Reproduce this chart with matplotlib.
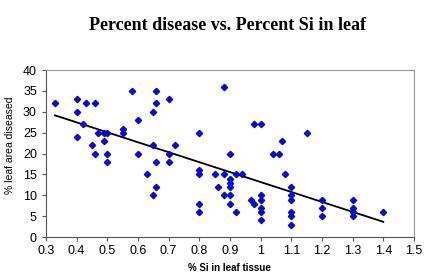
import matplotlib.pyplot as plt
import numpy as np

# data
si = [0.33, 0.40, 0.40, 0.43, 0.46, 0.42, 0.40, 0.47, 0.49, 0.50, 0.45, 0.49,
      0.46, 0.50, 0.50, 0.55, 0.55, 0.58, 0.60, 0.60, 0.63, 0.65, 0.65, 0.66,
      0.66, 0.66, 0.66, 0.65, 0.70, 0.70, 0.70, 0.72, 0.80, 0.80, 0.80, 0.80,
      0.80, 0.85, 0.86, 0.88, 0.88, 0.88, 0.90, 0.90, 0.90, 0.90, 0.90, 0.90,
      0.92, 0.92, 0.94, 0.97, 0.98, 0.98, 1.00, 1.00, 1.00, 1.00, 1.00, 1.00,
      1.04, 1.06, 1.07, 1.08, 1.10, 1.10, 1.10, 1.10, 1.10, 1.10, 1.15, 1.20,
      1.20, 1.20, 1.30, 1.30, 1.30, 1.30, 1.40]
disease = [32, 33, 30, 32, 32, 27, 24, 25, 25, 25, 22, 23,
           20, 20, 18, 26, 25, 35, 28, 20, 15, 22, 30, 32,
           35, 18, 12, 10, 33, 20, 18, 22, 25, 16, 15, 8,
           6, 15, 12, 36, 15, 10, 20, 14, 13, 12, 10, 8,
           15, 6, 15, 9, 8, 27, 27, 10, 9, 7, 6, 4,
           20, 20, 23, 15, 12, 10, 9, 6, 5, 3, 25, 9,
           7, 5, 9, 7, 6, 5, 6]
x_ticks = [0.3, 0.4, 0.5, 0.6, 0.7, 0.8, 0.9, 1.0, 1.1, 1.2, 1.3, 1.4, 1.5]
x_labels = ['0.3', '0.4', '0.5', '0.6', '0.7', '0.8', '0.9', '1', '1.1', '1.2', '1.3', '1.4', '1.5']
y_ticks = [0, 5, 10, 15, 20, 25, 30, 35, 40]

plt.rcParams['font.family'] = 'Liberation Sans'

fig = plt.figure(figsize=(4.25, 2.78), dpi=100)
ax = fig.add_axes([0.108, 0.147, 0.866, 0.601])

ax.plot(si, disease, linestyle='none', marker='D', markersize=3.2,
        color='#0a0acc', zorder=3)

# linear trendline
coef = np.polyfit(si, disease, 1)
xs = np.array([min(si), max(si)])
ax.plot(xs, np.polyval(coef, xs), color='black', linewidth=1.3, zorder=2)

ax.set_xlim(0.3, 1.5)
ax.set_ylim(0, 40)
ax.set_xticks(x_ticks)
ax.set_xticklabels(x_labels)
ax.set_yticks(y_ticks)
ax.tick_params(labelsize=9, direction='out', length=3, color='#555555')
ax.tick_params(axis='x', pad=3)

for side in ['top', 'right']:
    ax.spines[side].set_color('#999999')
for side in ['left', 'bottom']:
    ax.spines[side].set_color('#555555')

ax.set_xlabel('% Si in leaf tissue', fontsize=7, fontweight='bold', labelpad=4)
ax.set_ylabel('% leaf area diseased', fontsize=7.5, labelpad=6)
ax.yaxis.set_label_coords(-0.085, 0.55)

fig.text(0.535, 0.91, 'Percent disease vs. Percent Si in leaf', ha='center',
         va='center', fontsize=13, fontweight='bold', family='Liberation Serif')

fig.savefig('out.png', dpi=100)
